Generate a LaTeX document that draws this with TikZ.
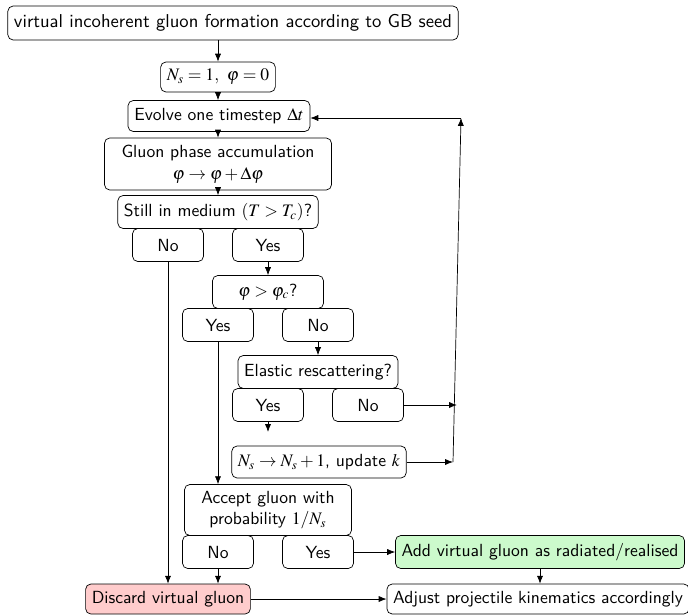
\documentclass[tikz,border=0pt]{standalone}
\usepackage{amsmath,amssymb}
\usepackage{mathptmx}
\usepackage{xcolor}
\usepackage{tikz}
\usetikzlibrary{positioning,arrows.meta,calc}
\definecolor{acceptcol}{RGB}{204,250,204}
\definecolor{discardcol}{RGB}{255,204,204}

\begin{document}
\begin{tikzpicture}[x=0.02cm, y=-0.02cm, >={Latex[length=4.5pt,width=3.5pt]},
    box/.style={draw, rounded corners=3pt, font=\sffamily\fontsize{10}{12.4}\selectfont,
        inner xsep=3.5pt, minimum height=33*0.02cm, align=center},
    choice/.style={box, minimum width=71*0.02cm},
    flow/.style={->}]
\useasboundingbox (0,0) rectangle (688,615);
% main chain
\node[box, minimum height=34*0.02cm, font=\sffamily\fontsize{10.6}{12.6}\selectfont] (seed) at (233,23)
    {virtual incoherent gluon formation according to GB seed};
\node[box, minimum height=30*0.02cm] (init) at (218,77) {$N_s = 1,\ \varphi = 0$};
\node[box, minimum height=31*0.02cm, minimum width=182*0.02cm] (evolve) at (219,116)
    {Evolve one timestep $\Delta t$};
\node[box, minimum height=52*0.02cm, minimum width=227*0.02cm] (phase) at (218,164)
    {Gluon phase accumulation\\ $\varphi \to \varphi + \Delta\varphi$};
\node[box, minimum width=200*0.02cm] (medium) at (218,212) {Still in medium $(T > T_c)$?};
\node[choice] (medno) at (168,245) {No};
\node[choice] (medyes) at (268,245) {Yes};
% phase test
\node[box, minimum width=111*0.02cm] (crit) at (268,292) {$\varphi > \varphi_c$?};
\node[choice] (crityes) at (218,325) {Yes};
\node[choice] (critno) at (318,325) {No};
% rescattering
\node[box, minimum width=160*0.02cm] (elastic) at (318,372) {Elastic rescattering?};
\node[choice] (elyes) at (268,405) {Yes};
\node[choice] (elno) at (368,405) {No};
\node[box, minimum height=32*0.02cm, minimum width=174*0.02cm] (update) at (319,462)
    {$N_s \to N_s + 1$, update $k$};
% acceptance
\node[box, minimum height=51*0.02cm, minimum width=167*0.02cm] (accept) at (268,510)
    {Accept gluon with\\ probability $1/N_s$};
\node[choice] (accno) at (218,552) {No};
\node[choice] (accyes) at (318,552) {Yes};
\node[box, fill=acceptcol] (add) at (540,552) {Add virtual gluon as radiated/realised};
\node[box, fill=discardcol, minimum height=30*0.02cm] (discard) at (168,599) {Discard virtual gluon};
\node[box, minimum height=30*0.02cm] (adjust) at (538,599) {Adjust projectile kinematics accordingly};
% loop points
\coordinate (elend) at (268,432);
\coordinate (loopno) at (457,405);
\coordinate (loopbot) at (453,462);
\coordinate (looptop) at (461,118);

\draw[flow] (seed.south -| init) -- (init);
\draw[flow] (init) -- (evolve.north -| init);
\draw[flow] (evolve.south -| init) -- (phase.north -| init);
\draw[flow] (phase) -- (medium);
\draw[flow] (medno) -- (discard);
\draw[flow] (medyes) -- (crit);
\draw[flow] (crityes) -- (crityes |- accept.north);
\draw[flow] (critno) -- (critno |- elastic.north);
\draw[flow] (elyes) -- (elend);
\draw[flow] (elno) -- (loopno);
\draw[flow] (update) -- (loopbot);
\draw[flow] (loopbot) -- (looptop);
\draw[flow] (looptop) -- (evolve.east |- looptop);
\draw[flow] (accno) -- (accno |- discard.north);
\draw[flow] (accyes) -- (add);
\draw[flow] (add.south) -- (add.south |- adjust.north);
\draw[flow] (discard) -- (adjust);
\end{tikzpicture}
\end{document}
